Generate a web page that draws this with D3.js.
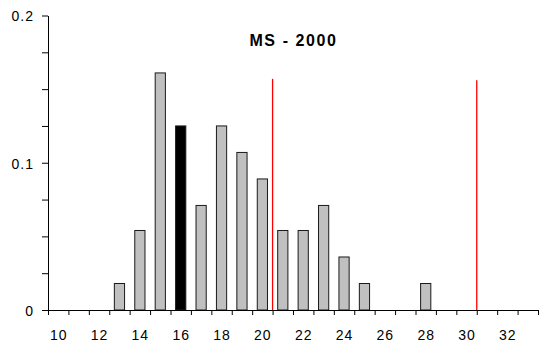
<!DOCTYPE html>
<html>
<head>
<meta charset="utf-8">
<script src="https://cdn.jsdelivr.net/npm/d3@7"></script>
<style>
  html, body { margin: 0; padding: 0; background: #fff; }
  svg { display: block; }
  text { font-family: "Liberation Sans", Arial, sans-serif; fill: #000; }
</style>
</head>
<body>
<svg id="chart" width="539" height="346"></svg>
<script>
// Relative frequency of MS values, 2000
const categories = d3.range(10, 34);                 // 10 .. 33
const freqValues = [0, 0, 0, 0.018, 0.054, 0.161, 0.125, 0.071, 0.125, 0.107,
                    0.089, 0.054, 0.054, 0.071, 0.036, 0.018, 0, 0, 0.018, 0,
                    0, 0, 0, 0];
const highlighted = [16];                             // category drawn in black
const xTickLabels = [10, 12, 14, 16, 18, 20, 22, 24, 26, 28, 30, 32];
const yTickValues = d3.range(0, 0.2001, 0.025);
const yTickLabels = [0, 0.1, 0.2];
const limitLines = [20.5, 30.5];
const limitTops = [0.157, 0.156];
const title = "MS - 2000";

const svg = d3.select("#chart");
const plotLeft = 48, plotRight = 538, plotBottom = 310, plotTop = 15.5;

const x = d3.scaleBand().domain(categories).range([plotLeft, plotRight])
  .paddingInner(0.5).paddingOuter(0.25);
const xLin = d3.scaleLinear().domain([9.5, 33.5]).range([plotLeft, plotRight]);
const y = d3.scaleLinear().domain([0, 0.2]).range([plotBottom, plotTop]);

// bars
svg.append("g").selectAll("rect")
  .data(categories.map((c, i) => ({ c, v: freqValues[i] })).filter(d => d.v > 0))
  .join("rect")
  .attr("x", d => x(d.c))
  .attr("y", d => y(d.v))
  .attr("width", x.bandwidth())
  .attr("height", d => y(0) - y(d.v))
  .attr("fill", d => highlighted.includes(d.c) ? "#000" : "#c0c0c0")
  .attr("stroke", "#1a1a1a")
  .attr("stroke-width", 1);

// red limit lines
svg.append("g").selectAll("line")
  .data(limitLines.map((v, i) => ({ v, t: limitTops[i] })))
  .join("line")
  .attr("x1", d => xLin(d.v)).attr("x2", d => xLin(d.v))
  .attr("y1", d => y(d.t)).attr("y2", y(0))
  .attr("stroke", "#ff0000")
  .attr("stroke-width", 1.3);

// x axis: ticks at category boundaries
const xAxis = svg.append("g").attr("transform", `translate(0,${plotBottom})`)
  .call(d3.axisBottom(xLin)
    .tickValues(d3.range(9.5, 33.6, 1))
    .tickSize(5).tickSizeOuter(0).tickFormat(""));
xAxis.select(".domain").attr("stroke", "#000");
xAxis.selectAll(".tick line").attr("stroke", "#000");

svg.append("g").selectAll("text")
  .data(xTickLabels)
  .join("text")
  .attr("x", d => x(d) + x.bandwidth() / 2 + 0.5)
  .attr("y", plotBottom + 30)
  .attr("text-anchor", "middle")
  .attr("font-size", 14)
  .attr("letter-spacing", 1)
  .text(d => d);

// y axis
const yAxis = svg.append("g").attr("transform", `translate(${plotLeft},0)`)
  .call(d3.axisLeft(y)
    .tickValues(yTickValues)
    .tickSize(6).tickSizeOuter(0).tickPadding(8)
    .tickFormat(d => yTickLabels.some(t => Math.abs(t - d) < 1e-9) ? d3.format("")(+d.toFixed(1)) : ""));
yAxis.select(".domain").attr("stroke", "#000");
yAxis.selectAll(".tick line").attr("stroke", "#000");
yAxis.selectAll(".tick text")
  .attr("font-family", "'Liberation Sans', Arial, sans-serif")
  .attr("font-size", 14)
  .attr("letter-spacing", 1)
  .attr("dy", "0.38em")
  .attr("fill", "#000");

// title
svg.append("text")
  .attr("x", 293.5)
  .attr("y", 46)
  .attr("text-anchor", "middle")
  .attr("font-size", 16)
  .attr("font-weight", "bold")
  .attr("letter-spacing", 1.6)
  .text(title);
</script>
</body>
</html>
